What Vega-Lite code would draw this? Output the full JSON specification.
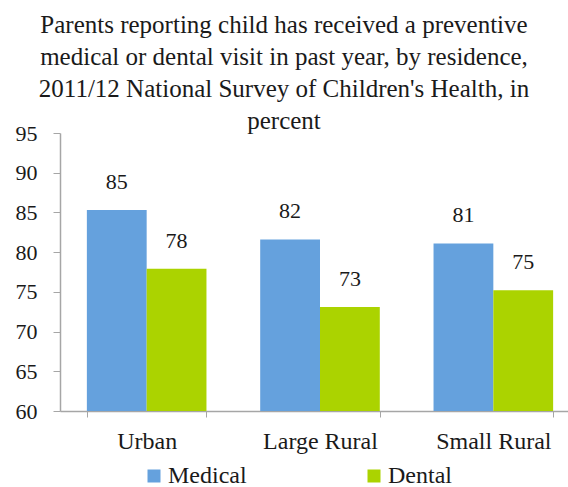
{
  "$schema": "https://vega.github.io/schema/vega-lite/v6.json",
  "width": 508,
  "height": 278,
  "autosize": "none",
  "padding": {"left": 60, "top": 133, "right": 0, "bottom": 76},
  "background": "white",
  "title": {
    "text": ["Parents reporting child has received a preventive", "medical or dental visit in past year, by residence,", "2011/12 National Survey of Children's Health, in", "percent"],
    "font": "Liberation Serif",
    "fontSize": 25,
    "fontWeight": "normal",
    "color": "#1a1a1a",
    "lineHeight": 32,
    "anchor": "middle",
    "frame": "group",
    "dx": -30,
    "offset": -12
  },
  "config": {
    "view": {"stroke": null},
    "font": "Liberation Serif",
    "axis": {"labelFont": "Liberation Serif", "labelColor": "#1a1a1a", "domainColor": "#a6a6a6", "tickColor": "#a6a6a6", "grid": false, "title": null},
    "legend": {"labelFont": "Liberation Serif"}
  },
  "data": {
    "values": [
      {"residence": "Urban", "type": "Medical", "value": 85.3},
      {"residence": "Urban", "type": "Dental", "value": 77.9},
      {"residence": "Large Rural", "type": "Medical", "value": 81.6},
      {"residence": "Large Rural", "type": "Dental", "value": 73.1},
      {"residence": "Small Rural", "type": "Medical", "value": 81.1},
      {"residence": "Small Rural", "type": "Dental", "value": 75.2}
    ]
  },
  "encoding": {
    "x": {
      "field": "residence",
      "type": "nominal",
      "sort": ["Urban", "Large Rural", "Small Rural"],
      "scale": {"range": [0, 520], "paddingInner": 0.31, "paddingOuter": 0.155},
      "axis": {"labelAngle": 0, "labelFontSize": 24, "labelPadding": 12, "tickSize": 6, "tickBand": "extent", "domainWidth": 1.5}
    },
    "xOffset": {
      "field": "type",
      "type": "nominal",
      "sort": ["Medical", "Dental"],
      "scale": {"paddingInner": 0, "paddingOuter": 0}
    },
    "y": {
      "field": "value",
      "type": "quantitative",
      "scale": {"domain": [60, 95], "zero": false, "nice": false},
      "axis": {"values": [60, 65, 70, 75, 80, 85, 90, 95], "labelFontSize": 22, "tickSize": 7, "labelPadding": 16, "domainWidth": 1.5}
    }
  },
  "layer": [
    {
      "mark": {"type": "bar"},
      "encoding": {
        "y2": {"datum": 60},
        "color": {
          "field": "type",
          "type": "nominal",
          "sort": ["Medical", "Dental"],
          "scale": {"domain": ["Medical", "Dental"], "range": ["#65a1dd", "#abd300"]},
          "legend": {
            "title": null,
            "orient": "none",
            "direction": "horizontal",
            "legendX": 82,
            "legendY": 331,
            "symbolType": "square",
            "symbolSize": 169,
            "symbolStrokeWidth": 0,
            "labelFontSize": 24,
            "labelColor": "#1a1a1a",
            "labelOffset": 2,
            "columnPadding": 115
          }
        }
      }
    },
    {
      "mark": {"type": "text", "dy": -21, "baseline": "alphabetic", "fontSize": 22, "color": "#1a1a1a", "font": "Liberation Serif"},
      "encoding": {
        "text": {"field": "value", "type": "quantitative", "format": ".0f"}
      }
    }
  ]
}
